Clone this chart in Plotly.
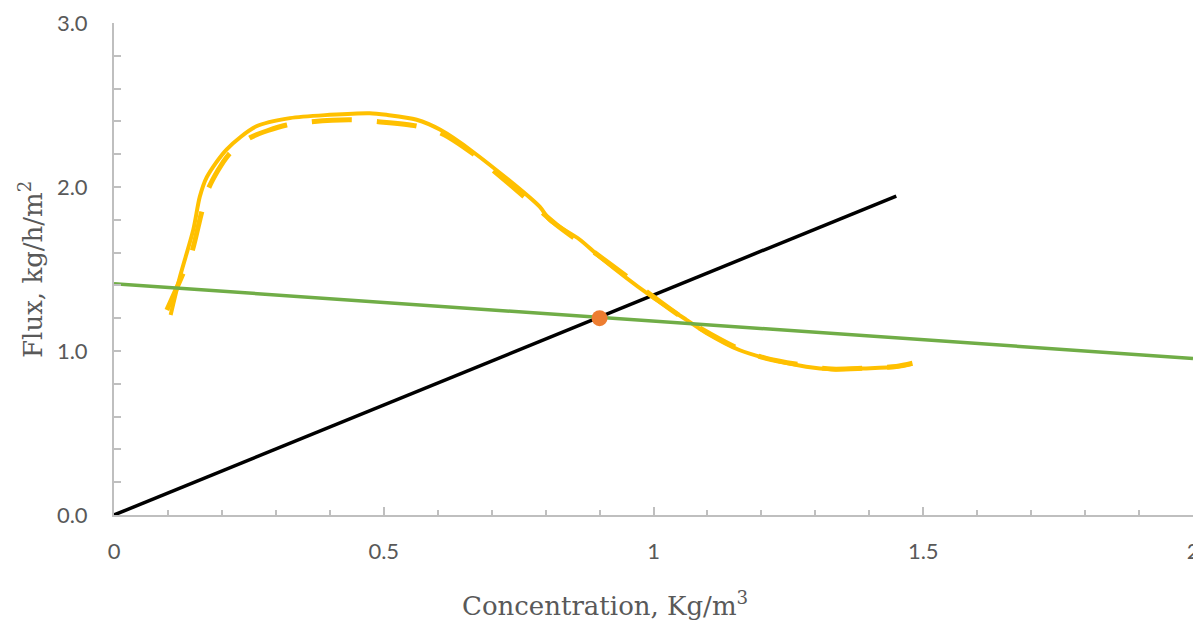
import plotly.graph_objects as go

# Solid yellow curve
solid_x = [0.105, 0.122, 0.147, 0.159, 0.172, 0.209, 0.264, 0.326, 0.40, 0.474, 0.505, 0.561,
           0.604, 0.665, 0.789, 0.807, 0.863, 0.90, 0.993, 1.061, 1.098, 1.159, 1.209, 1.283,
           1.332, 1.394, 1.449, 1.477]
solid_y = [1.22, 1.45, 1.74, 1.94, 2.06, 2.23, 2.37, 2.42, 2.44, 2.45, 2.44, 2.41,
           2.35, 2.215, 1.88, 1.80, 1.68, 1.575, 1.34, 1.19, 1.11, 1.006, 0.955, 0.904,
           0.888, 0.894, 0.904, 0.921]

# Dashed yellow curve
dash_x = [0.098, 0.125, 0.144, 0.162, 0.175, 0.212, 0.252, 0.32, 0.366, 0.44, 0.49, 0.561,
          0.607, 0.669, 0.706, 0.764, 0.82, 0.897, 0.959, 1.0, 1.06, 1.16, 1.209, 1.283,
          1.33, 1.39, 1.45, 1.48]
dash_y = [1.25, 1.45, 1.60, 1.84, 1.99, 2.195, 2.30, 2.378, 2.398, 2.41, 2.398, 2.372,
          2.327, 2.195, 2.093, 1.93, 1.77, 1.585, 1.433, 1.33, 1.19, 1.01, 0.955, 0.91,
          0.89, 0.895, 0.905, 0.925]

# Operating line (black) and green line
black_x = [0.0, 1.45]
black_y = [0.0, 1.945]
green_x = [0.0, 2.0]
green_y = [1.41, 0.955]

# Intersection point
point_x = [0.9]
point_y = [1.2]

x_title = "Concentration, Kg/m<sup>3</sup>"
y_title = "Flux, kg/h/m<sup>2</sup>"

fig = go.Figure()
fig.add_trace(go.Scatter(x=black_x, y=black_y, mode="lines",
                         line=dict(color="#000000", width=3.5)))
fig.add_trace(go.Scatter(x=solid_x, y=solid_y, mode="lines",
                         line=dict(color="#FFC000", width=4, shape="spline", smoothing=0.8)))
fig.add_trace(go.Scatter(x=dash_x, y=dash_y, mode="lines",
                         line=dict(color="#FFC000", width=5, shape="spline", smoothing=0.8,
                                   dash="40px,25px")))
fig.add_trace(go.Scatter(x=green_x, y=green_y, mode="lines",
                         line=dict(color="#70AD47", width=3.5)))
fig.add_trace(go.Scatter(x=point_x, y=point_y, mode="markers",
                         marker=dict(color="#ED7D31", size=16, line=dict(width=0))))

axis_common = dict(showgrid=False, zeroline=False, showline=True, linecolor="#BFBFBF",
                   linewidth=2, ticks="inside", tickcolor="#BFBFBF", tickwidth=2,
                   ticklabeloverflow="allow", automargin=False,
                   tickfont=dict(family="Lato", size=22, color="#595959"))

fig.update_xaxes(range=[0, 2], dtick=0.5, tick0=0, ticklen=8, ticklabelstandoff=16,
                 minor=dict(dtick=0.1, ticks="inside", ticklen=5, tickcolor="#BFBFBF", tickwidth=2),
                 **axis_common)
fig.update_yaxes(range=[0, 3], dtick=1, tick0=0, ticklen=7, tickformat=".1f",
                 ticklabelstandoff=20,
                 minor=dict(dtick=0.2, ticks="inside", ticklen=7, tickcolor="#BFBFBF", tickwidth=2),
                 **axis_common)

fig.update_layout(
    width=1193, height=620,
    margin=dict(l=114, r=0, t=23, b=105, autoexpand=False),
    plot_bgcolor="white", paper_bgcolor="white",
    showlegend=False,
    annotations=[
        dict(text=x_title, xref="paper", yref="paper", x=0.455, y=-0.18,
             xanchor="center", yanchor="middle", showarrow=False,
             font=dict(family="DejaVu Serif", size=26, color="#595959")),
        dict(text=y_title, xref="paper", yref="paper", x=-0.077, y=0.5,
             xanchor="center", yanchor="middle", showarrow=False, textangle=-90,
             font=dict(family="DejaVu Serif", size=26, color="#595959")),
    ],
)

fig.write_html("out.html")
